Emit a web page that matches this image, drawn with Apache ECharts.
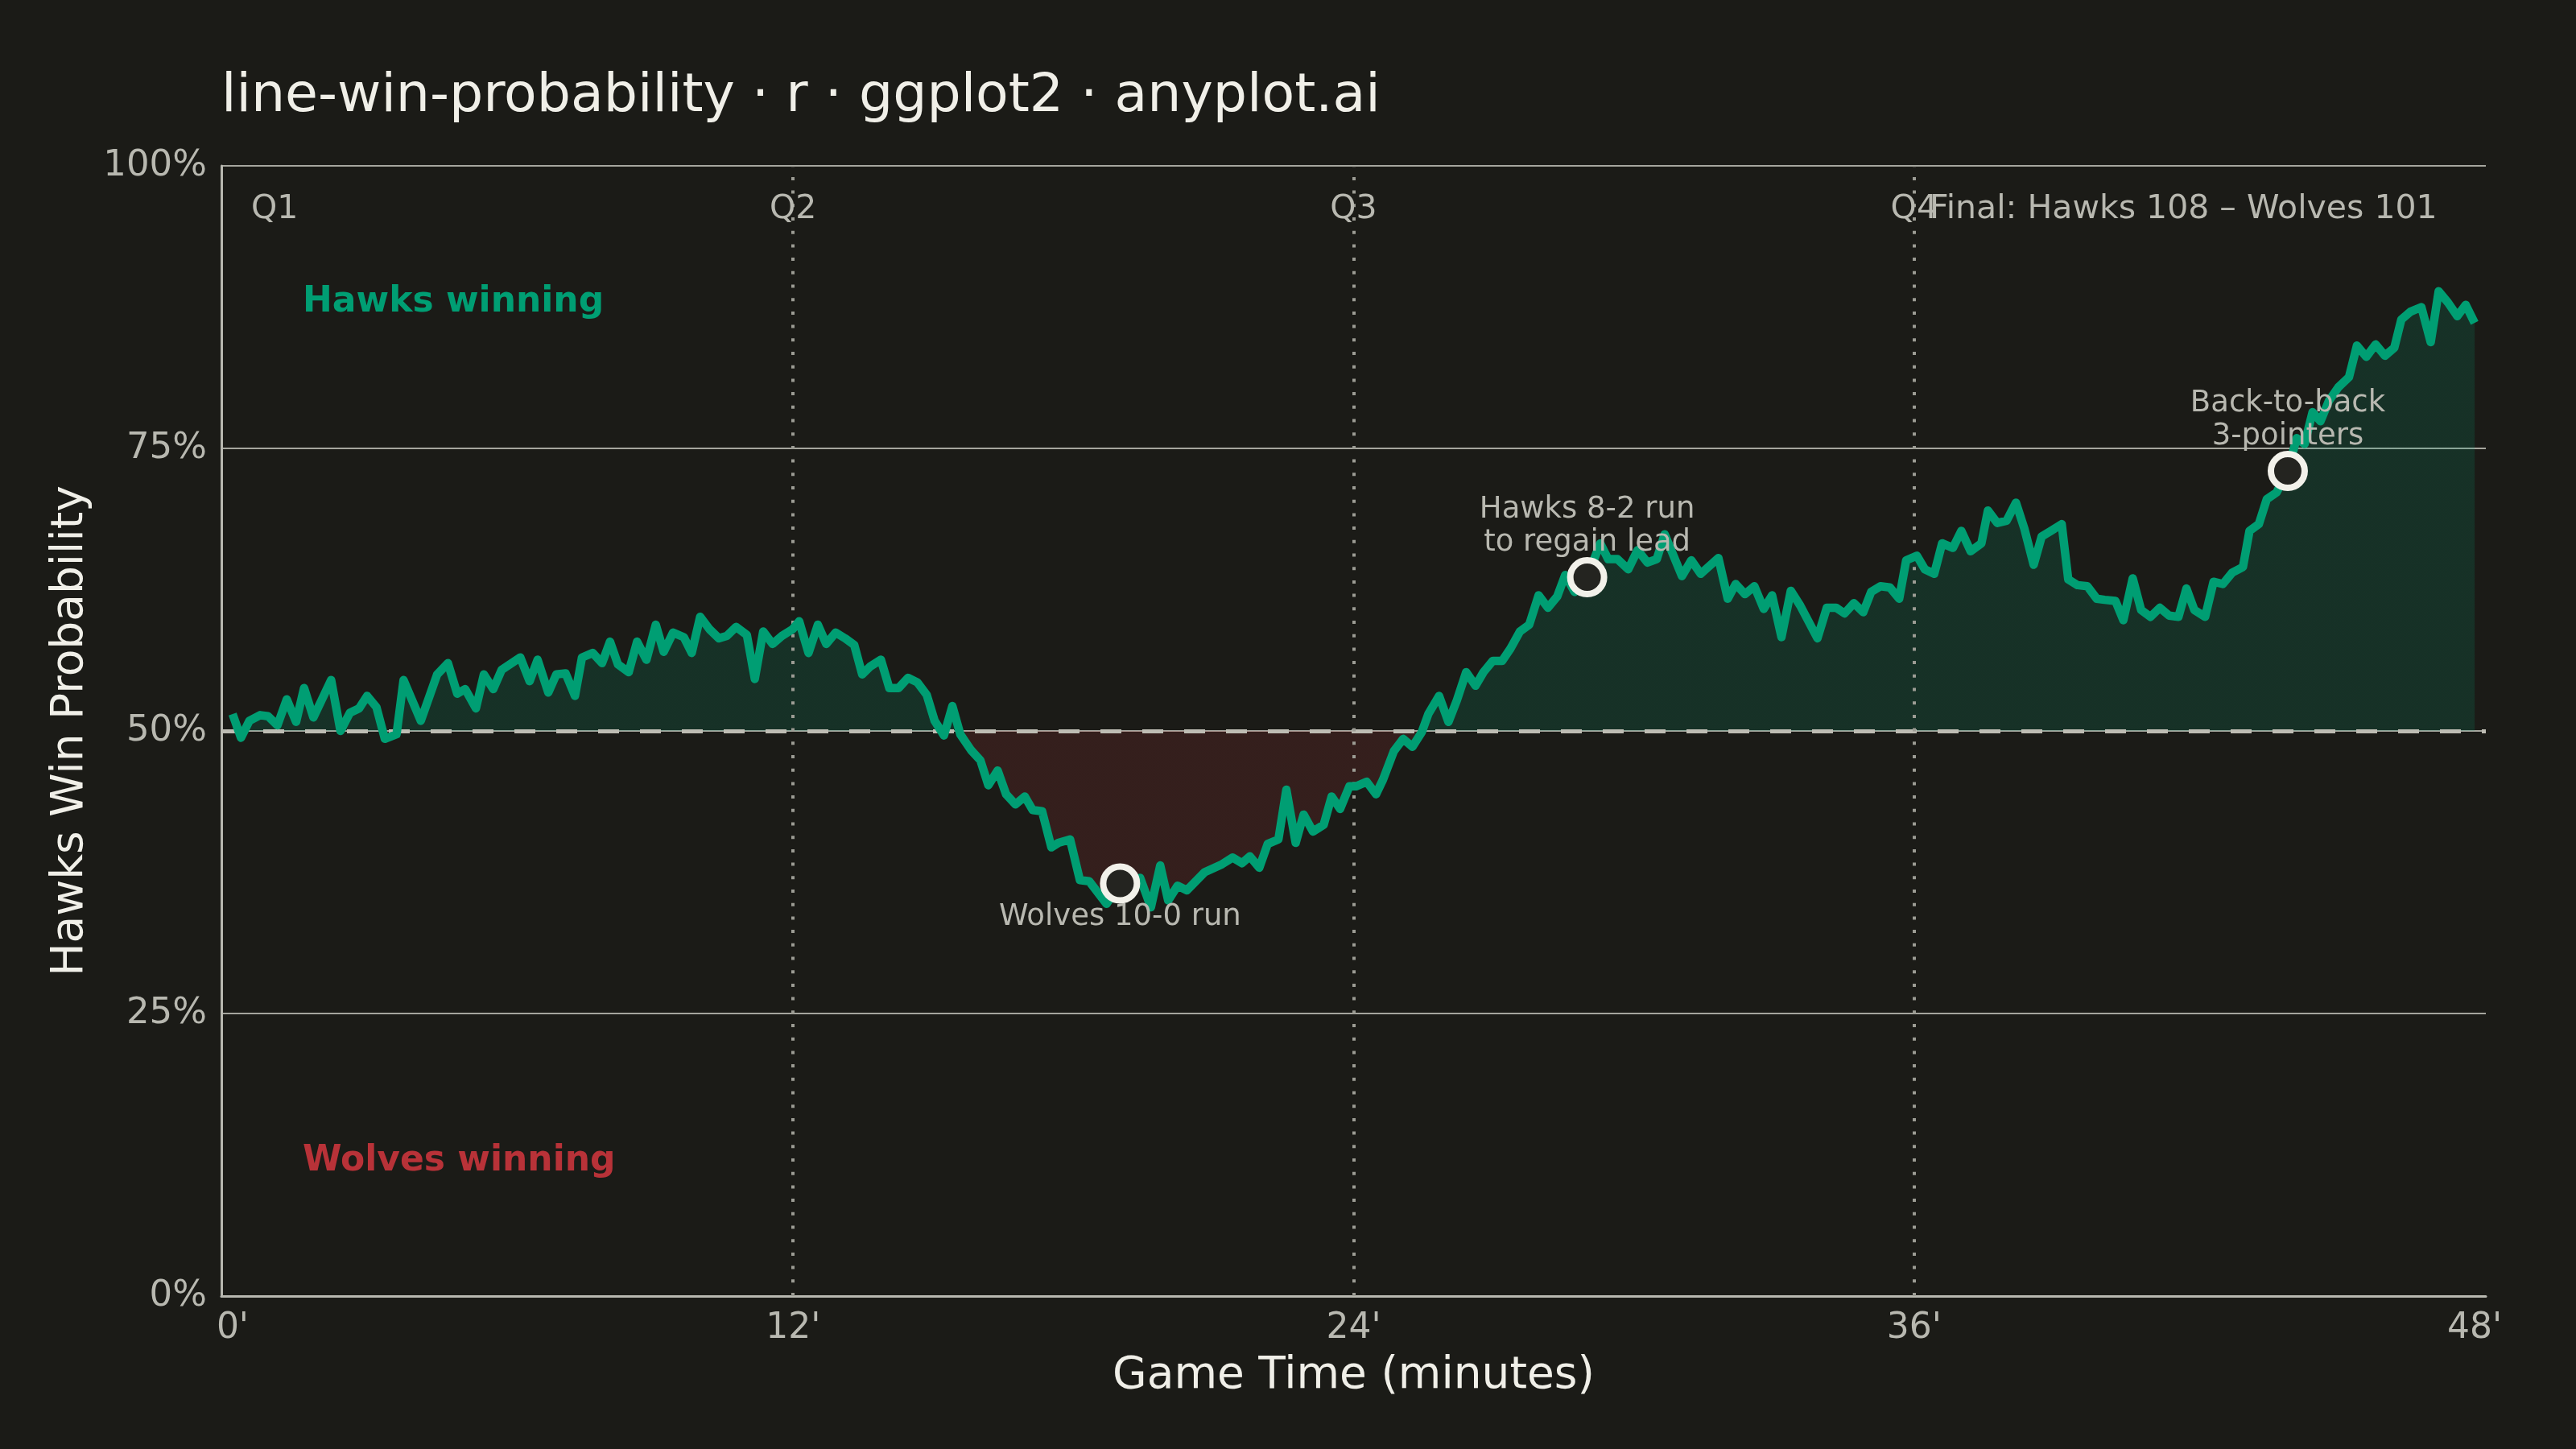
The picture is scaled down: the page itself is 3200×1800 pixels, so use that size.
<!DOCTYPE html>
<html>
<head>
<meta charset="utf-8">
<title>line-win-probability</title>
<script src="https://cdn.jsdelivr.net/npm/echarts@6/dist/echarts.min.js"></script>
<style>
  html, body { margin: 0; padding: 0; background: #1b1b17; }
  #chart { width: 3200px; height: 1800px; }
</style>
</head>
<body>
<div id="chart"></div>
<script>
// ---- data ----
const gameMinutes = [
  0, 0.18, 0.36, 0.59, 0.76, 0.96, 1.16, 1.36, 1.53, 1.73, 2.11, 2.31, 2.51, 2.71, 2.88, 3.08, 3.26, 3.51, 3.66, 4.03,
  4.38, 4.61, 4.81, 4.98, 5.21, 5.38, 5.58, 5.76,
  6.16, 6.36, 6.53, 6.76, 6.93, 7.13, 7.33, 7.48, 7.71, 7.91, 8.08, 8.25, 8.48, 8.66, 8.86, 9.06, 9.23, 9.43, 9.66, 9.83,
  10.01, 10.21, 10.41, 10.58, 10.78, 11.01, 11.18, 11.36, 11.56, 11.76, 11.99,
  12.13, 12.33, 12.53, 12.71, 12.91, 13.11, 13.31, 13.48, 13.65, 13.88, 14.06, 14.26, 14.46, 14.66, 14.86, 15.03, 15.23,
  15.41, 15.58, 15.81, 16.01, 16.18, 16.38, 16.56, 16.76, 16.96, 17.13, 17.33, 17.53, 17.68, 17.93, 18.14,
  18.34, 18.71, 19.0, 19.43, 19.66, 19.86, 20.03, 20.23, 20.43, 20.81, 21.18, 21.41, 21.61, 21.78, 21.98, 22.16, 22.39,
  22.56, 22.76, 22.93, 23.13, 23.36, 23.53, 23.71, 23.91, 24.05, 24.28,
  24.48, 24.63, 24.86, 25.06, 25.26, 25.46, 25.60, 25.83, 26.03, 26.21, 26.41, 26.61, 26.78, 26.98, 27.18, 27.36, 27.56,
  27.76, 27.96, 28.16, 28.36, 28.53, 28.73, 29.0, 29.28, 29.45, 29.65, 29.88, 30.08, 30.29, 30.49,
  30.66, 31.03, 31.23, 31.43, 31.81, 32.01, 32.18, 32.38, 32.58, 32.78, 32.96, 33.16, 33.36, 33.56, 33.93, 34.13, 34.33,
  34.51, 34.71, 34.91, 35.08, 35.28, 35.48, 35.68, 35.83, 36.06, 36.23, 36.43, 36.60,
  36.83, 37.01, 37.21, 37.44, 37.58, 37.78, 37.98, 38.18, 38.36, 38.56, 38.73, 38.93, 39.16, 39.30, 39.50, 39.71, 39.91,
  40.08, 40.31, 40.48, 40.68, 40.86, 41.06, 41.26, 41.46, 41.66, 41.83, 42.00, 42.23, 42.41, 42.61, 42.81,
  43.04, 43.18, 43.38, 43.55, 43.76, 44.0, 44.19, 44.36, 44.53, 44.70, 44.88, 45.08, 45.31, 45.48, 45.68, 45.88, 46.08,
  46.28, 46.43, 46.63, 46.86, 47.06, 47.23, 47.43, 47.63, 47.81, 48.0
];
const hawksWinPct = [
  51.5, 49.4, 50.9, 51.4, 51.3, 50.5, 52.8, 50.8, 53.8, 51.2, 54.5, 50.0, 51.6, 52.0, 53.1, 52.1, 49.3, 49.7, 54.5, 50.9,
  55.0, 56.0, 53.3, 53.7, 52.0, 55.0, 53.7, 55.4,
  56.5, 54.4, 56.3, 53.4, 55.0, 55.1, 53.1, 56.5, 56.9, 56.0, 57.9, 55.9, 55.2, 57.9, 56.3, 59.4, 57.0, 58.7, 58.3, 56.9,
  60.1, 59.0, 58.2, 58.4, 59.2, 58.5, 54.6, 58.8, 57.7, 58.4, 59.0,
  59.7, 56.9, 59.4, 57.7, 58.7, 58.2, 57.6, 55.0, 55.7, 56.3, 53.8, 53.8, 54.7, 54.3, 53.2, 50.9, 49.6,
  52.2, 49.7, 48.3, 47.4, 45.2, 46.5, 44.4, 43.5, 44.2, 43.0, 42.9, 39.7, 40.1, 40.4, 36.8,
  36.7, 34.7, 36.5, 37.0, 34.4, 38.1, 35.0, 36.3, 35.9, 37.5, 38.2, 38.8, 38.3, 38.9, 37.9, 40.0, 40.4,
  44.8, 40.1, 42.6, 41.1, 41.7, 44.2, 43.1, 45.1, 45.1, 45.5,
  44.4, 45.7, 48.2, 49.3, 48.6, 49.9, 51.5, 53.1, 50.8, 52.7, 55.2, 54.0, 55.2, 56.2, 56.2, 57.3, 58.8,
  59.4, 62.0, 60.9, 61.9, 63.8, 62.3, 63.6, 66.6, 65.2, 65.2, 64.3, 66.0, 64.9, 65.2,
  67.4, 63.7, 65.1, 63.9, 65.3, 61.7, 63.0, 62.1, 62.8, 60.8, 62.0, 58.3, 62.4, 61.1, 58.2, 60.9, 60.9,
  60.4, 61.3, 60.5, 62.3, 62.8, 62.7, 61.7, 65.1, 65.5, 64.3, 63.9, 66.6,
  66.2, 67.7, 65.9, 66.6, 69.5, 68.4, 68.6, 70.2, 67.9, 64.7, 67.2, 67.7, 68.3, 63.4, 62.9, 62.8, 61.7,
  61.6, 61.5, 59.8, 63.5, 60.7, 60.1, 60.9, 60.2, 60.1, 62.6, 60.7, 60.1, 63.2, 63.0, 64.0,
  64.5, 67.7, 68.3, 70.5, 71.1, 73.0, 75.9, 75.4, 78.2, 77.4, 79.2, 80.4, 81.3, 84.1, 83.1, 84.2, 83.2,
  83.9, 86.4, 87.1, 87.5, 84.4, 88.9, 87.9, 86.7, 87.7, 86.1
];

const keyMomentMinutes = [19.0, 29.0, 44.0];
const keyMomentPct = [36.5, 63.6, 73.0];
const keyMomentNotes = ['Wolves 10-0 run', 'Hawks 8-2 run\nto regain lead', 'Back-to-back\n3-pointers'];
const keyMomentLabelSide = ['bottom', 'top', 'top'];

const quarterStartMinutes = [12, 24, 36];
const quarterLabels = ['Q1', 'Q2', 'Q3', 'Q4'];
const quarterLabelMinutes = [0.9, 12, 24, 36];
const quarterLabelPct = 96.1;

const finalScoreText = 'Final: Hawks 108 \u2013 Wolves 101';
const finalScorePos = [47.2, 96.1];
const hawksZoneText = 'Hawks winning';
const hawksZonePos = [1.5, 87.9];
const wolvesZoneText = 'Wolves winning';
const wolvesZonePos = [1.5, 11.9];

const xTickMinutes = [0, 12, 24, 36, 48];
const yTickPct = [0, 25, 50, 75, 100];
const evenLinePct = 50;

// ---- styling ----
const BG = '#1b1b17';
const INK = '#f0efe8';
const SOFT = '#b8b8b0';
const GRID = '#a6a69e';
const HAWKS = '#009E73';
const WOLVES = '#b83238';
const FONT = 'DejaVu Sans';

const linePoints = gameMinutes.map((m, i) => [m, hawksWinPct[i]]);
const markerPoints = keyMomentMinutes.map((m, i) => ({
  value: [m, keyMomentPct[i]],
  label: {
    show: true,
    formatter: keyMomentNotes[i],
    position: keyMomentLabelSide[i],
    distance: keyMomentLabelSide[i] === 'top' ? -3 : -4,
    color: SOFT,
    fontSize: 37,
    lineHeight: 41,
    fontFamily: FONT,
    align: 'center',
    textBorderWidth: 0
  }
}));

function textItem(pos, text, align, color, size, weight) {
  return {
    value: pos,
    label: {
      show: true, formatter: text, position: [0.5, 0.5], align: align, verticalAlign: 'middle',
      color: color, fontSize: size, fontWeight: weight, fontFamily: FONT,
      textBorderWidth: 0, opacity: 1
    }
  };
}
const textItems = [
  textItem(hawksZonePos, hawksZoneText, 'left', HAWKS, 44, 'bold'),
  textItem(wolvesZonePos, wolvesZoneText, 'left', WOLVES, 44, 'bold'),
  textItem(finalScorePos, finalScoreText, 'right', SOFT, 41, 'normal')
].concat(quarterLabels.map((q, i) =>
  textItem([quarterLabelMinutes[i], quarterLabelPct], q, 'center', SOFT, 41, 'normal')));

const chart = echarts.init(document.getElementById('chart'), null, { renderer: 'canvas' });
chart.setOption({
  backgroundColor: BG,
  animation: false,
  textStyle: { fontFamily: FONT },
  title: {
    text: 'line-win-probability \u00b7 r \u00b7 ggplot2 \u00b7 anyplot.ai',
    left: 275, top: 87, padding: 0,
    textStyle: { color: INK, fontSize: 66.5, fontWeight: 'normal', fontFamily: FONT }
  },
  grid: { left: 275, right: 112, top: 206, bottom: 190 },
  xAxis: {
    type: 'value', min: -0.24, max: 48.24,
    name: 'Game Time (minutes)', nameLocation: 'middle', nameGap: 72,
    nameTextStyle: { color: INK, fontSize: 55, fontFamily: FONT },
    axisLine: { show: true, onZero: false, lineStyle: { color: '#b8b8b0', width: 3 } },
    axisTick: { show: false },
    splitLine: { show: false },
    axisLabel: {
      customValues: xTickMinutes, formatter: v => v + "'",
      color: SOFT, fontSize: 44, margin: 19, fontFamily: FONT
    }
  },
  yAxis: {
    type: 'value', min: 0, max: 100, interval: 25,
    name: 'Hawks Win Probability', nameLocation: 'middle', nameGap: 160, nameRotate: 90,
    nameTextStyle: { color: INK, fontSize: 55, fontFamily: FONT },
    axisLine: { show: true, onZero: false, lineStyle: { color: '#b8b8b0', width: 3 } },
    axisTick: { show: false },
    splitLine: { show: true, lineStyle: { color: GRID, width: 2 } },
    axisLabel: {
      customValues: yTickPct, formatter: v => v + '%',
      color: SOFT, fontSize: 45, margin: 18, fontFamily: FONT, padding: [14, 0, 0, 0]
    }
  },
  visualMap: {
    type: 'piecewise', show: false, seriesIndex: 0, dimension: 1,
    pieces: [
      { gte: evenLinePct, lte: 100, color: 'rgba(0,158,115,0.17)' },
      { gte: 0, lt: evenLinePct, color: 'rgba(178,50,56,0.17)' }
    ]
  },
  series: [
    {
      type: 'line', z: 1, data: linePoints, showSymbol: false, symbol: 'none', silent: true,
      lineStyle: { width: 0, opacity: 0 },
      areaStyle: { origin: evenLinePct, opacity: 1 },
      markLine: {
        silent: true, symbol: 'none', z: 2, animation: false,
        label: { show: false },
        data: [
          { yAxis: evenLinePct, lineStyle: { color: '#bebdb4', width: 5, type: [26, 26] } }
        ].concat(quarterStartMinutes.map(m => ({
          xAxis: m, lineStyle: { color: '#9c9c94', width: 4, type: [4, 12.7] }
        })))
      }
    },
    {
      type: 'line', z: 3, data: linePoints, showSymbol: false, symbol: 'none', silent: true,
      lineStyle: { color: HAWKS, width: 10.5, cap: 'butt', join: 'round' }
    },
    {
      type: 'scatter', z: 4, data: markerPoints, symbol: 'circle', symbolSize: 42, silent: true,
      itemStyle: { color: '#242420', borderColor: '#f2f1ea', borderWidth: 8, opacity: 1 }
    },
    {
      type: 'scatter', z: 5, data: textItems, symbol: 'circle', symbolSize: 1, silent: true,
      itemStyle: { color: 'rgba(0,0,0,0)' }
    }
  ]
});
</script>
</body>
</html>
